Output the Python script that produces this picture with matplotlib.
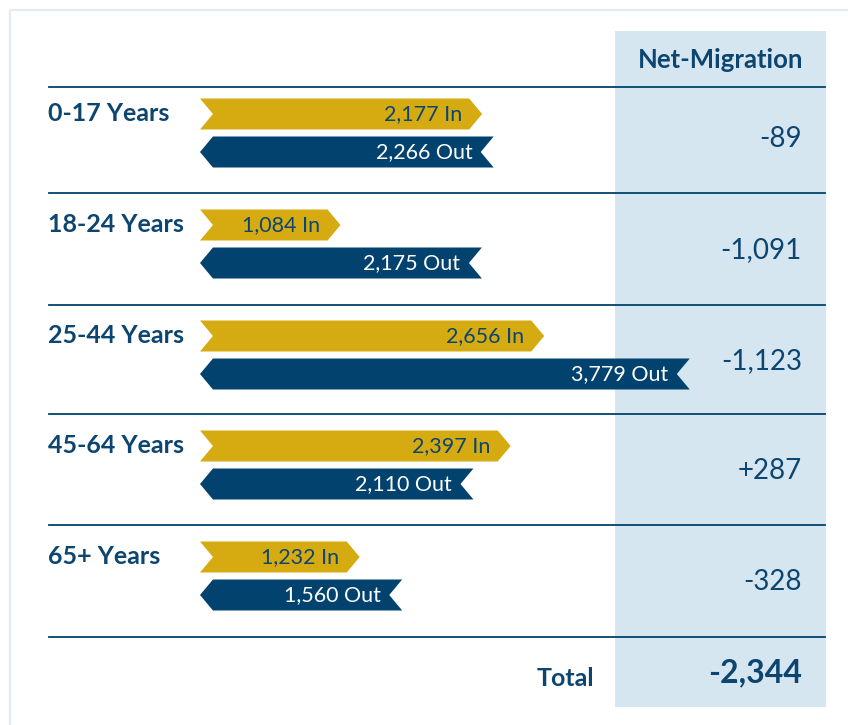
import matplotlib.pyplot as plt
from matplotlib.patches import Polygon, Rectangle

# data
ages = ['0-17 Years', '18-24 Years', '25-44 Years', '45-64 Years', '65+ Years']
moved_in = [2177, 1084, 2656, 2397, 1232]
moved_out = [2266, 2175, 3779, 2110, 1560]
net = ['-89', '-1,091', '-1,123', '+287', '-328']
total = '-2,344'

navy = '#02426e'
text_navy = '#0d4571'
gold = '#d5ab11'
shade = '#d5e6f1'
plt.rcParams['font.family'] = ['Lato', 'DejaVu Sans']

fig = plt.figure(figsize=(8.48, 7.25), dpi=100)
ax = fig.add_axes([0, 0, 1, 1])
ax.set_xlim(0, 848)
ax.set_ylim(725, 0)
ax.axis('off')

# frame + shaded net column
ax.add_patch(Rectangle((10, 10), 900, 800, fill=False, ec='#e2ecf3', lw=1.6))
ax.add_patch(Rectangle((615, 31), 211, 676, fc=shade, ec='none'))

row_y = [113, 224, 335, 445, 556]
line_y = [87, 193, 305, 414, 525, 637]
for y in line_y:
    ax.plot([49, 825], [y, y], color=navy, lw=1.3, zorder=3)

ax.text(721, 60, 'Net-Migration', ha='center', va='center', fontsize=18.5,
        fontweight='bold', color=text_navy)

for y, lab, nv in zip(row_y, ages, net):
    ax.text(48, y, lab, ha='left', va='center', fontsize=18, fontweight='bold', color=text_navy)
    ax.text(802, y + 26, nv, ha='right', va='center', fontsize=20, color=text_navy)

ax.text(594, 678, 'Total', ha='right', va='center', fontsize=18, fontweight='bold', color=text_navy)
ax.text(802, 673, total, ha='right', va='center', fontsize=23, fontweight='bold', color=text_navy)

# arrow bars on their own axis (value units)
bx = fig.add_axes([200 / 848, 0, 648 / 848, 1])
bx.set_xlim(0, 5000)
bx.set_ylim(725, 0)
bx.axis('off')
tip = 100
h = 15.5
for y, vin, vout in zip(row_y, moved_in, moved_out):
    yi = y + 1
    bx.add_patch(Polygon([(0, yi - h), (vin - tip, yi - h), (vin, yi), (vin - tip, yi + h),
                          (0, yi + h), (tip, yi)], closed=True, fc=gold, ec='none'))
    bx.text(vin - tip - 55, yi, f'{vin:,} In', ha='right', va='center', fontsize=15.5, color=text_navy)
    yo = y + 39
    bx.add_patch(Polygon([(0, yo), (tip, yo - h), (vout, yo - h), (vout - tip, yo),
                          (vout, yo + h), (tip, yo + h)], closed=True, fc=navy, ec='none'))
    bx.text(vout - tip - 65, yo, f'{vout:,} Out', ha='right', va='center', fontsize=15.5, color='white')

fig.savefig('out.png', dpi=100, facecolor='white')
